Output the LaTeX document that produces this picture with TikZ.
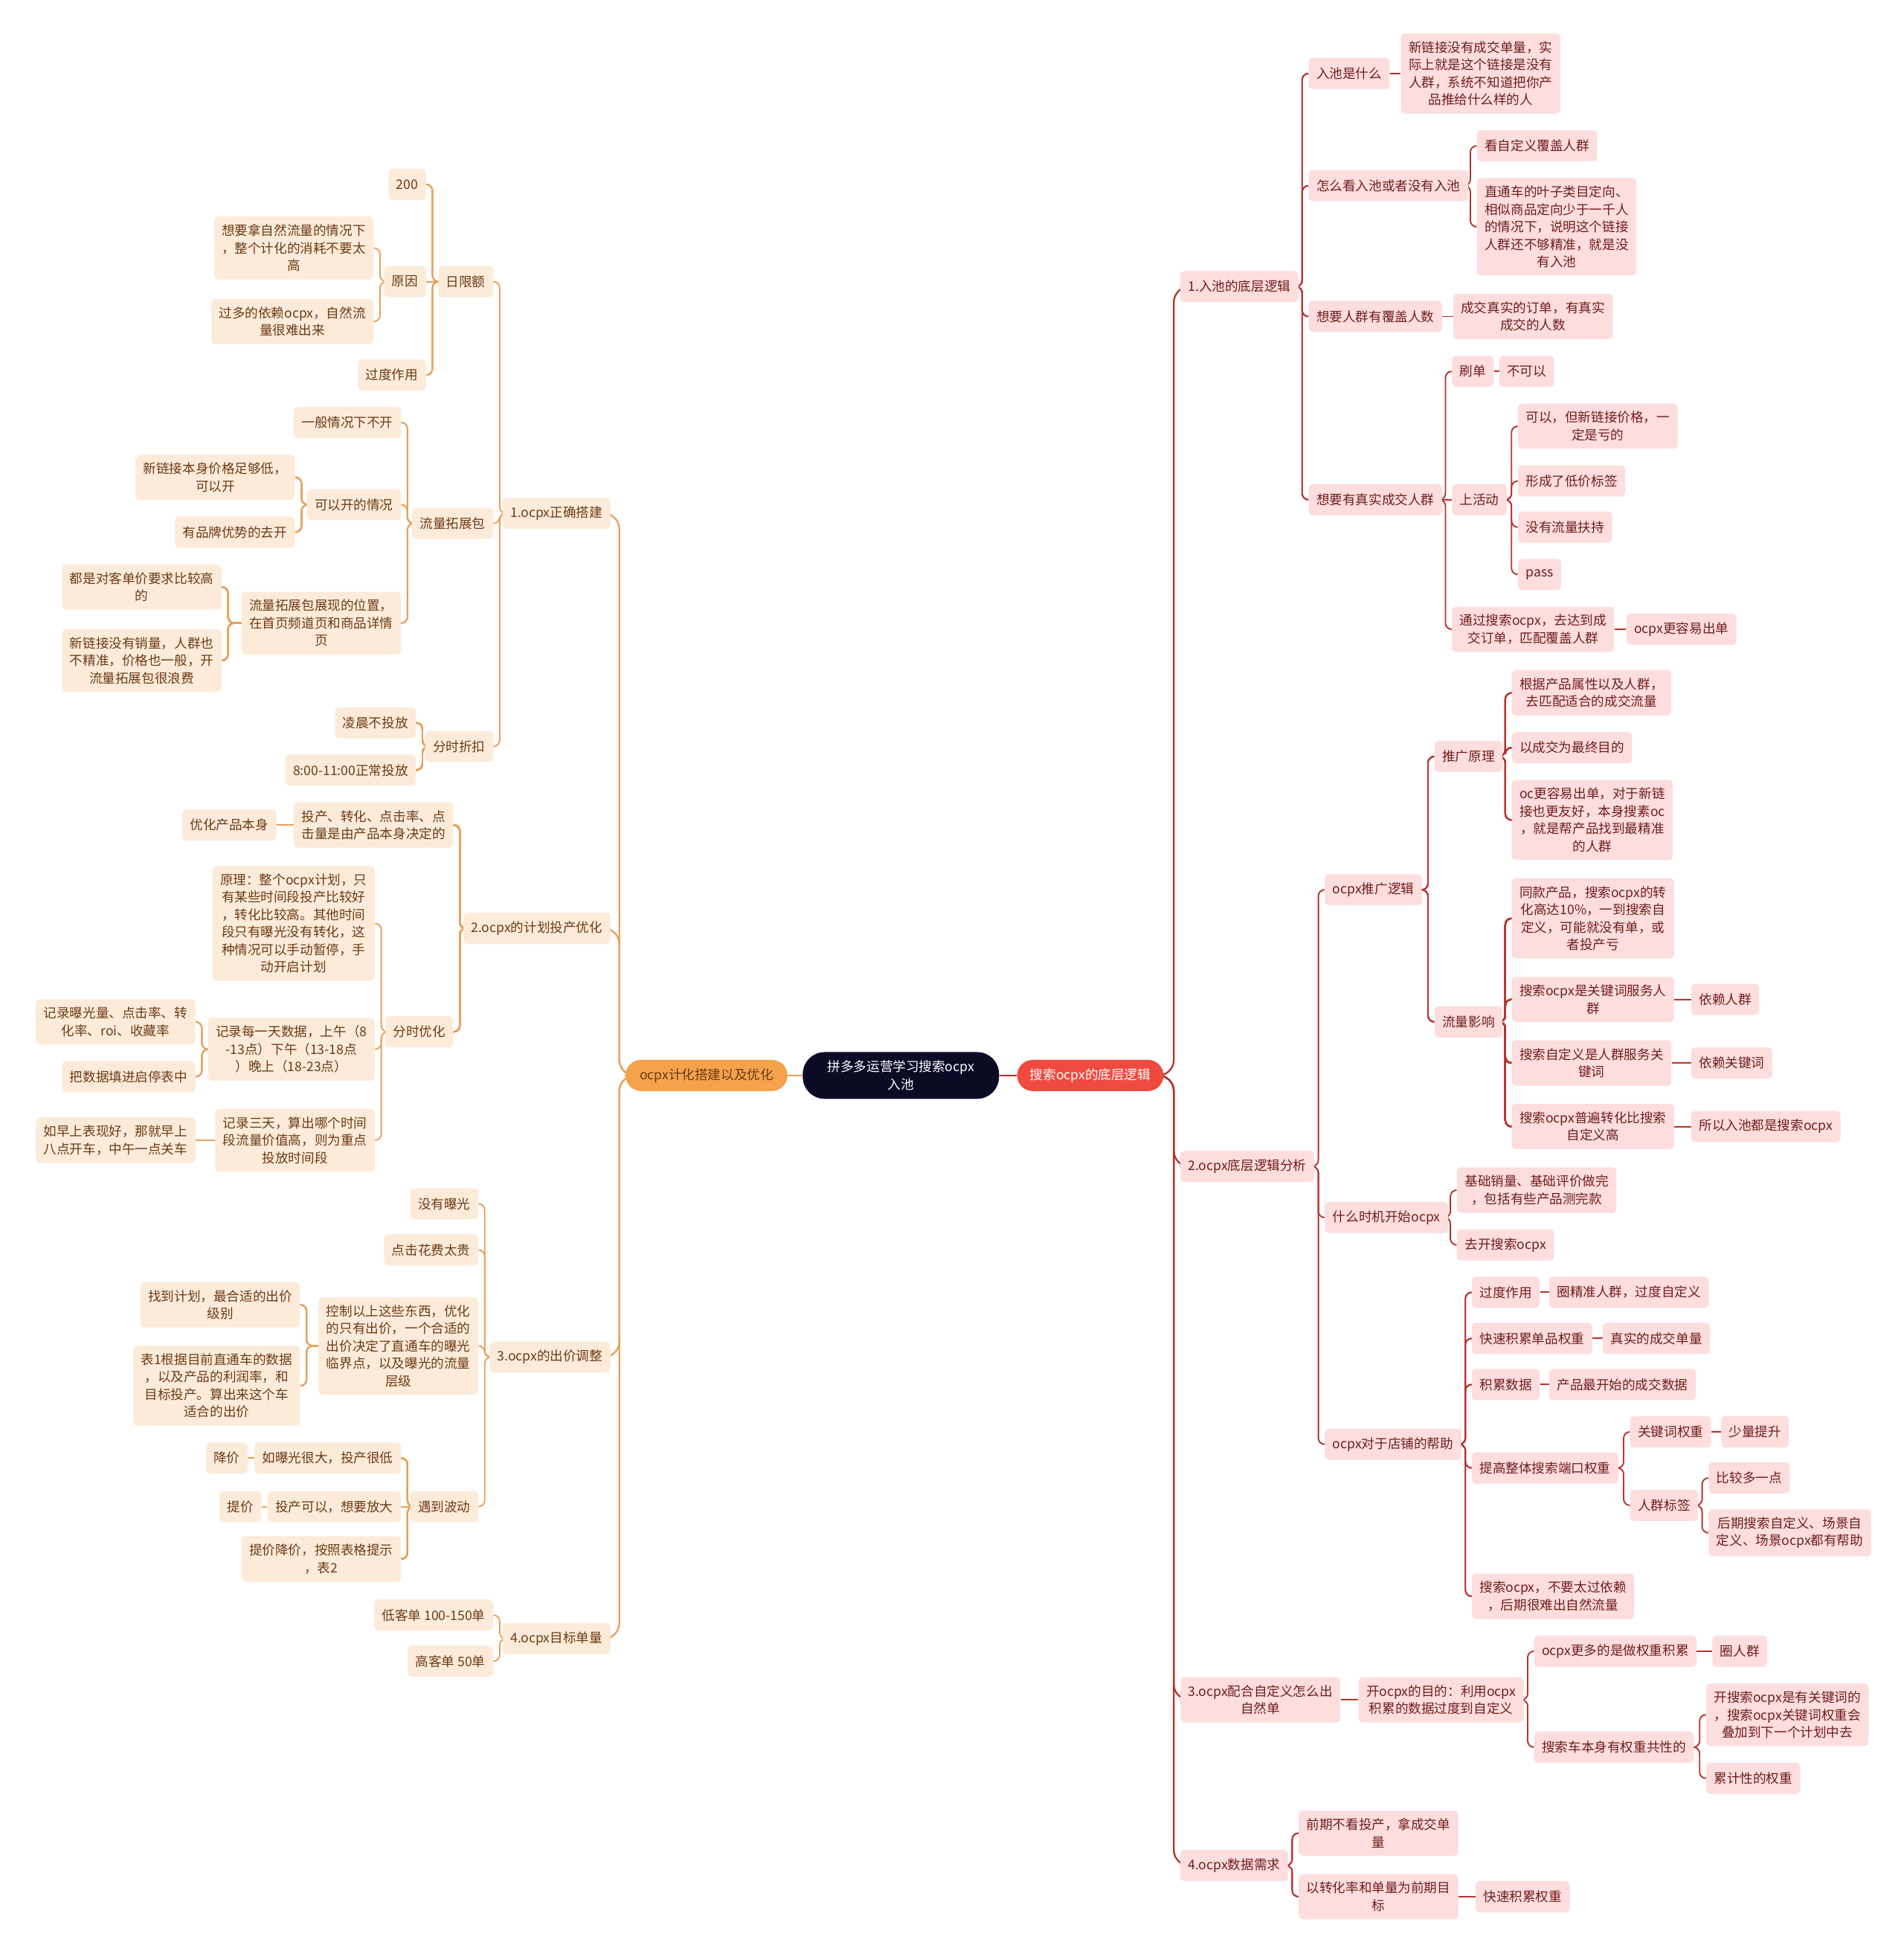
\documentclass[tikz,border=0pt]{standalone}
\usepackage{fontspec}
\setmainfont{Noto Sans CJK SC}
\usepackage{xcolor}
\usetikzlibrary{calc}

\definecolor{lfill}{HTML}{FDEBDA}
\definecolor{ltext}{HTML}{6A3B14}
\definecolor{lline}{HTML}{E8A05A}
\definecolor{rfill}{HTML}{FDDDDD}
\definecolor{rtext}{HTML}{6F1D1D}
\definecolor{rline}{HTML}{B8322E}
\definecolor{rootfill}{HTML}{0C0B26}
\definecolor{mlfill}{HTML}{F4A24C}
\definecolor{mrfill}{HTML}{EF4A3F}

\pgfdeclarelayer{bg}
\pgfsetlayers{bg,main}

\tikzset{
  box/.style={rounded corners=2.5pt, inner xsep=5pt, inner ysep=5pt, minimum height=20pt,
    align=center, font=\fontsize{8.4}{11.2}\selectfont},
  lbox/.style={box, fill=lfill, text=ltext, anchor=east},
  rbox/.style={box, fill=rfill, text=rtext, anchor=west},
  lcon/.style={draw=lline, line width=0.9pt, rounded corners=4pt},
  rcon/.style={draw=rline, line width=0.9pt, rounded corners=4pt},
  lmain/.style={draw=lline, line width=1.1pt, rounded corners=10pt},
  rmain/.style={draw=rline, line width=1.1pt, rounded corners=10pt},
}
% parent, child
\newcommand{\lto}[2]{\draw[lcon] (#2.east) -- ++(5,0) |- (#1.west);}
\newcommand{\rto}[2]{\draw[rcon] (#2.west) -- ++(-5,0) |- (#1.east);}

\begin{document}
\begin{tikzpicture}[x=0.8pt, y=-0.8pt]
\useasboundingbox (0,0) rectangle (1528,1568);

% centre
\node[box, fill=rootfill, text=white, rounded corners=14pt, minimum width=126pt, minimum height=30pt] (root) at (723,863) {拼多多运营学习搜索ocpx\\入池};
\node[box, fill=mlfill, text=ltext, rounded corners=10pt, minimum width=104pt] (ml) at (567,863) {ocpx计化搭建以及优化};
\node[box, fill=mrfill, text=white, rounded corners=10pt, minimum width=94pt] (mr) at (875,863) {搜索ocpx的底层逻辑};

% left: ocpx setup
\node[lbox] (l1) at (490,412) {1.ocpx正确搭建};
\node[lbox] (l2) at (490,745) {2.ocpx的计划投产优化};
\node[lbox] (l3) at (490,1089) {3.ocpx的出价调整};
\node[lbox] (l4) at (490,1315) {4.ocpx目标单量};

\node[lbox] (l1a) at (396,226) {日限额};
\node[lbox] (l1b) at (396,420) {流量拓展包};
\node[lbox] (l1c) at (396,599) {分时折扣};
\node[lbox] (l1a1) at (342,148) {200};
\node[lbox] (l1a2) at (342,226) {原因};
\node[lbox] (l1a3) at (342,301) {过度作用};
\node[lbox] (l1a2a) at (300,199) {想要拿自然流量的情况下\\，整个计化的消耗不要太\\高};
\node[lbox] (l1a2b) at (300,258) {过多的依赖ocpx，自然流\\量很难出来};
\node[lbox] (l1b1) at (322,339) {一般情况下不开};
\node[lbox] (l1b2) at (322,405) {可以开的情况};
\node[lbox] (l1b3) at (322,500) {流量拓展包展现的位置，\\在首页频道页和商品详情\\页};
\node[lbox] (l1b2a) at (237,383) {新链接本身价格足够低，\\可以开};
\node[lbox] (l1b2b) at (237,427) {有品牌优势的去开};
\node[lbox] (l1b3a) at (178,471) {都是对客单价要求比较高\\的};
\node[lbox] (l1b3b) at (178,530) {新链接没有销量，人群也\\不精准，价格也一般，开\\流量拓展包很浪费};
\node[lbox] (l1c1) at (334,580) {凌晨不投放};
\node[lbox] (l1c2) at (334,618) {8:00-11:00正常投放};

\node[lbox] (l2a) at (364,662) {投产、转化、点击率、点\\击量是由产品本身决定的};
\node[lbox] (l2a1) at (222,662) {优化产品本身};
\node[lbox] (l2b) at (364,828) {分时优化};
\node[lbox] (l2b1) at (301,741) {原理：整个ocpx计划，只\\有某些时间段投产比较好\\，转化比较高。其他时间\\段只有曝光没有转化，这\\种情况可以手动暂停，手\\动开启计划};
\node[lbox] (l2b2) at (301,842) {记录每一天数据，上午（8\\-13点）下午（13-18点\\）晚上（18-23点）};
\node[lbox] (l2b3) at (301,915) {记录三天，算出哪个时间\\段流量价值高，则为重点\\投放时间段};
\node[lbox] (l2b2a) at (157,820) {记录曝光量、点击率、转\\化率、roi、收藏率};
\node[lbox] (l2b2b) at (157,864) {把数据填进启停表中};
\node[lbox] (l2b3a) at (157,915) {如早上表现好，那就早上\\八点开车，中午一点关车};

\node[lbox] (l3a) at (384,966) {没有曝光};
\node[lbox] (l3b) at (384,1003) {点击花费太贵};
\node[lbox] (l3c) at (384,1080) {控制以上这些东西，优化\\的只有出价，一个合适的\\出价决定了直通车的曝光\\临界点，以及曝光的流量\\层级};
\node[lbox] (l3d) at (384,1209) {遇到波动};
\node[lbox] (l3c1) at (241,1047) {找到计划，最合适的出价\\级别};
\node[lbox] (l3c2) at (241,1112) {表1根据目前直通车的数据\\，以及产品的利润率，和\\目标投产。算出来这个车\\适合的出价};
\node[lbox] (l3d1) at (322,1170) {如曝光很大，投产很低};
\node[lbox] (l3d2) at (322,1209) {投产可以，想要放大};
\node[lbox] (l3d3) at (322,1251) {提价降价，按照表格提示\\，表2};
\node[lbox] (l3d1a) at (199,1170) {降价};
\node[lbox] (l3d2a) at (210,1209) {提价};

\node[lbox] (l4a) at (396,1296) {低客单 100-150单};
\node[lbox] (l4b) at (396,1333) {高客单 50单};

% right: search ocpx logic
\node[rbox] (r1) at (947,230) {1.入池的底层逻辑};
\node[rbox] (r2) at (947,936) {2.ocpx底层逻辑分析};
\node[rbox] (r3) at (947,1364) {3.ocpx配合自定义怎么出\\自然单};
\node[rbox] (r4) at (947,1497) {4.ocpx数据需求};

\node[rbox] (r1a) at (1050,59) {入池是什么};
\node[rbox] (r1a1) at (1124,59) {新链接没有成交单量，实\\际上就是这个链接是没有\\人群，系统不知道把你产\\品推给什么样的人};
\node[rbox] (r1b) at (1050,149) {怎么看入池或者没有入池};
\node[rbox] (r1b1) at (1185,117) {看自定义覆盖人群};
\node[rbox] (r1b2) at (1185,182) {直通车的叶子类目定向、\\相似商品定向少于一千人\\的情况下，说明这个链接\\人群还不够精准，就是没\\有入池};
\node[rbox] (r1c) at (1050,254) {想要人群有覆盖人数};
\node[rbox] (r1c1) at (1166,254) {成交真实的订单，有真实\\成交的人数};
\node[rbox] (r1d) at (1050,401) {想要有真实成交人群};
\node[rbox] (r1d1) at (1165,298) {刷单};
\node[rbox] (r1d1a) at (1203,298) {不可以};
\node[rbox] (r1d2) at (1165,401) {上活动};
\node[rbox] (r1d2a) at (1218,342) {可以，但新链接价格，一\\定是亏的};
\node[rbox] (r1d2b) at (1218,386) {形成了低价标签};
\node[rbox] (r1d2c) at (1218,423) {没有流量扶持};
\node[rbox] (r1d2d) at (1218,461) {pass};
\node[rbox] (r1d3) at (1165,505) {通过搜索ocpx，去达到成\\交订单，匹配覆盖人群};
\node[rbox] (r1d3a) at (1305,505) {ocpx更容易出单};

\node[rbox] (r2a) at (1063,714) {ocpx推广逻辑};
\node[rbox] (r2a1) at (1151,607) {推广原理};
\node[rbox] (r2a1a) at (1213,556) {根据产品属性以及人群，\\去匹配适合的成交流量};
\node[rbox] (r2a1b) at (1213,600) {以成交为最终目的};
\node[rbox] (r2a1c) at (1213,658) {oc更容易出单，对于新链\\接也更友好，本身搜素oc\\，就是帮产品找到最精准\\的人群};
\node[rbox] (r2a2) at (1151,820) {流量影响};
\node[rbox] (r2a2a) at (1213,737) {同款产品，搜索ocpx的转\\化高达10\%，一到搜索自\\定义，可能就没有单，或\\者投产亏};
\node[rbox] (r2a2b) at (1213,802) {搜索ocpx是关键词服务人\\群};
\node[rbox] (r2a2b1) at (1357,802) {依赖人群};
\node[rbox] (r2a2c) at (1213,853) {搜索自定义是人群服务关\\键词};
\node[rbox] (r2a2c1) at (1357,853) {依赖关键词};
\node[rbox] (r2a2d) at (1213,904) {搜索ocpx普遍转化比搜索\\自定义高};
\node[rbox] (r2a2d1) at (1357,904) {所以入池都是搜索ocpx};
\node[rbox] (r2b) at (1063,977) {什么时机开始ocpx};
\node[rbox] (r2b1) at (1169,955) {基础销量、基础评价做完\\，包括有些产品测完款};
\node[rbox] (r2b2) at (1169,999) {去开搜索ocpx};
\node[rbox] (r2c) at (1063,1159) {ocpx对于店铺的帮助};
\node[rbox] (r2c1) at (1181,1037) {过度作用};
\node[rbox] (r2c1a) at (1243,1037) {圈精准人群，过度自定义};
\node[rbox] (r2c2) at (1181,1074) {快速积累单品权重};
\node[rbox] (r2c2a) at (1286,1074) {真实的成交单量};
\node[rbox] (r2c3) at (1181,1111) {积累数据};
\node[rbox] (r2c3a) at (1243,1111) {产品最开始的成交数据};
\node[rbox] (r2c4) at (1181,1178) {提高整体搜索端口权重};
\node[rbox] (r2c4a) at (1308,1149) {关键词权重};
\node[rbox] (r2c4a1) at (1381,1149) {少量提升};
\node[rbox] (r2c4b) at (1308,1208) {人群标签};
\node[rbox] (r2c4b1) at (1371,1186) {比较多一点};
\node[rbox] (r2c4b2) at (1371,1230) {后期搜索自定义、场景自\\定义、场景ocpx都有帮助};
\node[rbox] (r2c5) at (1181,1281) {搜索ocpx，不要太过依赖\\，后期很难出自然流量};

\node[rbox] (r3a) at (1090,1364) {开ocpx的目的：利用ocpx\\积累的数据过度到自定义};
\node[rbox] (r3a1) at (1231,1325) {ocpx更多的是做权重积累};
\node[rbox] (r3a1a) at (1374,1325) {圈人群};
\node[rbox] (r3a2) at (1231,1402) {搜索车本身有权重共性的};
\node[rbox] (r3a2a) at (1369,1376) {开搜索ocpx是有关键词的\\，搜索ocpx关键词权重会\\叠加到下一个计划中去};
\node[rbox] (r3a2b) at (1369,1427) {累计性的权重};

\node[rbox] (r4a) at (1042,1471) {前期不看投产，拿成交单\\量};
\node[rbox] (r4b) at (1042,1522) {以转化率和单量为前期目\\标};
\node[rbox] (r4b1) at (1184,1522) {快速积累权重};

\begin{pgfonlayer}{bg}
\fill[white] (0,0) rectangle (1528,1568);
% centre links
\draw[lmain] (root.west) -- (ml.east);
\draw[rmain] (root.east) -- (mr.west);
\foreach \c in {l1,l2,l3,l4} \draw[lmain] (\c.east) -- ++(7,0) |- (ml.west);
\foreach \c in {r1,r2,r3,r4} \draw[rmain] (\c.west) -- ++(-5,0) |- (mr.east);
% left tree
\foreach \c in {l1a,l1b,l1c} \lto{l1}{\c}
\foreach \c in {l1a1,l1a3} \lto{l1a}{\c}
\draw[lcon] (l1a2.east) -- (l1a.west);
\foreach \c in {l1a2a,l1a2b} \lto{l1a2}{\c}
\foreach \c in {l1b1,l1b2,l1b3} \lto{l1b}{\c}
\foreach \c in {l1b2a,l1b2b} \lto{l1b2}{\c}
\foreach \c in {l1b3a,l1b3b} \lto{l1b3}{\c}
\foreach \c in {l1c1,l1c2} \lto{l1c}{\c}
\foreach \c in {l2a,l2b} \lto{l2}{\c}
\draw[lcon] (l2a1.east) -- (l2a.west);
\foreach \c in {l2b1,l2b2,l2b3} \lto{l2b}{\c}
\foreach \c in {l2b2a,l2b2b} \lto{l2b2}{\c}
\draw[lcon] (l2b3a.east) -- (l2b3.west);
\foreach \c in {l3a,l3b,l3c,l3d} \lto{l3}{\c}
\foreach \c in {l3c1,l3c2} \lto{l3c}{\c}
\foreach \c in {l3d1,l3d3} \lto{l3d}{\c}
\draw[lcon] (l3d2.east) -- (l3d.west);
\draw[lcon] (l3d1a.east) -- (l3d1.west);
\draw[lcon] (l3d2a.east) -- (l3d2.west);
\foreach \c in {l4a,l4b} \lto{l4}{\c}
% right tree
\foreach \c in {r1a,r1b,r1c,r1d} \rto{r1}{\c}
\draw[rcon] (r1a.east) -- (r1a1.west);
\foreach \c in {r1b1,r1b2} \rto{r1b}{\c}
\draw[rcon] (r1c.east) -- (r1c1.west);
\foreach \c in {r1d1,r1d3} \rto{r1d}{\c}
\draw[rcon] (r1d.east) -- (r1d2.west);
\draw[rcon] (r1d1.east) -- (r1d1a.west);
\foreach \c in {r1d2a,r1d2b,r1d2c,r1d2d} \rto{r1d2}{\c}
\draw[rcon] (r1d3.east) -- (r1d3a.west);
\foreach \c in {r2a,r2b,r2c} \rto{r2}{\c}
\foreach \c in {r2a1,r2a2} \rto{r2a}{\c}
\foreach \c in {r2a1a,r2a1b,r2a1c} \rto{r2a1}{\c}
\foreach \c in {r2a2a,r2a2b,r2a2c,r2a2d} \rto{r2a2}{\c}
\draw[rcon] (r2a2b.east) -- (r2a2b1.west);
\draw[rcon] (r2a2c.east) -- (r2a2c1.west);
\draw[rcon] (r2a2d.east) -- (r2a2d1.west);
\foreach \c in {r2b1,r2b2} \rto{r2b}{\c}
\foreach \c in {r2c1,r2c2,r2c3,r2c4,r2c5} \rto{r2c}{\c}
\draw[rcon] (r2c1.east) -- (r2c1a.west);
\draw[rcon] (r2c2.east) -- (r2c2a.west);
\draw[rcon] (r2c3.east) -- (r2c3a.west);
\foreach \c in {r2c4a,r2c4b} \rto{r2c4}{\c}
\draw[rcon] (r2c4a.east) -- (r2c4a1.west);
\foreach \c in {r2c4b1,r2c4b2} \rto{r2c4b}{\c}
\draw[rcon] (r3.east) -- (r3a.west);
\foreach \c in {r3a1,r3a2} \rto{r3a}{\c}
\draw[rcon] (r3a1.east) -- (r3a1a.west);
\foreach \c in {r3a2a,r3a2b} \rto{r3a2}{\c}
\foreach \c in {r4a,r4b} \rto{r4}{\c}
\draw[rcon] (r4b.east) -- (r4b1.west);
\end{pgfonlayer}
\end{tikzpicture}
\end{document}
